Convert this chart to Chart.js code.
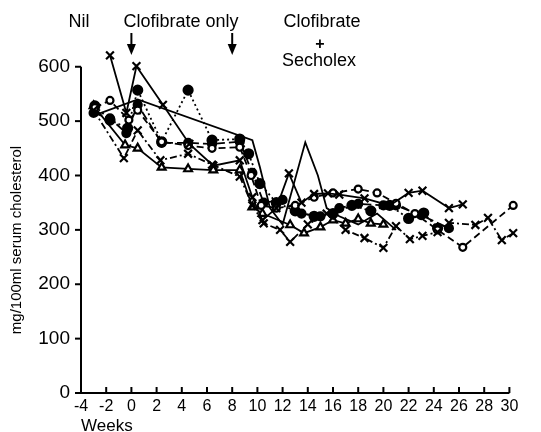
<!DOCTYPE html>
<html lang="en">
<head>
  <meta charset="UTF-8">
  <title>Serum cholesterol</title>
  <script src="https://cdn.jsdelivr.net/npm/chart.js"></script>
  <style>
    body {
      margin: 0;
      background: #fff;
    }
  </style>
</head>
<body>
  <canvas id="chol" width="541" height="432"></canvas>

  <script>
// weeks / mg per 100 ml, one pair of arrays per patient
const weeksXSolid = [-1.7, -0.4, 0.4, 2.5, 4.6, 6.5, 8.6, 9.6, 10.4, 11.5, 12.5, 13.5, 14.5, 15.6, 16.5, 18.5, 20.5, 22, 23.1, 25.2, 26.3];
const cholXSolid  = [621, 515, 601, 530, 458, 418, 428, 360, 318, 340, 404, 350, 366, 367, 365, 358, 345, 368, 372, 340, 347];

const weeksXDashDot = [-3, -0.6, 0.5, 2.3, 4.5, 6.4, 8.6, 9.6, 10.5, 11.8, 12.6, 14, 15.5, 17, 18.5, 20, 21, 22.1, 23.1, 24.3, 25.2, 27.3, 28.3, 29.4, 30.3];
const cholXDashDot  = [520, 432, 483, 428, 440, 420, 398, 345, 312, 300, 278, 310, 330, 300, 285, 267, 307, 283, 289, 296, 313, 309, 322, 281, 294];

const weeksOpenDash = [-2.9, -1.7, -0.2, 0.5, 2.4, 4.5, 6.4, 8.6, 9.5, 10.3, 11.5, 13, 14.5, 16, 18, 19.5, 21, 22.5, 24.3, 26.3, 30.3];
const cholOpenDash  = [525, 538, 502, 520, 462, 455, 450, 452, 400, 345, 340, 345, 360, 368, 375, 368, 349, 330, 300, 268, 345];

const weeksDotDot = [-2.9, -1.7, -0.3, 0.5, 2.4, 4.5, 6.4, 8.6, 9.3, 10.2, 11.5, 13, 14.5, 16, 17.5, 19, 20.5, 22, 23.2, 24.3];
const cholDotDot  = [528, 502, 487, 557, 462, 557, 465, 467, 440, 385, 350, 335, 325, 330, 345, 335, 345, 321, 331, 303];

const weeksDotDash = [-3, -1.7, -0.4, 0.5, 2.4, 4.5, 6.4, 8.6, 9.6, 10.5, 12, 13.5, 15, 16.5, 18, 20, 21, 23, 25.2];
const cholDotDash  = [515, 505, 478, 530, 460, 460, 458, 462, 405, 350, 355, 330, 325, 340, 348, 345, 345, 327, 303];

const weeksTri = [-3, -0.5, 0.5, 2.4, 4.5, 6.5, 8.6, 9.6, 10.4, 12.6, 13.7, 15, 16, 17, 18, 19, 20];
const cholTri  = [528, 456, 450, 415, 412, 410, 410, 342, 330, 309, 294, 305, 318, 312, 320, 312, 310];

const weeksPlain = [-3, 0.5, 9.6, 10.2, 11, 12, 13.8, 14.8, 15.5, 16.5, 18, 19.5, 21];
const cholPlain  = [510, 540, 465, 415, 340, 310, 461, 400, 340, 325, 310, 330, 300];

const xTicks = [-4, -2, 0, 2, 4, 6, 8, 10, 12, 14, 16, 18, 20, 22, 24, 26, 28, 30];
const yTicks = [0, 100, 200, 300, 400, 500, 600];

function pts(w, v) {
  return w.map((x, i) => ({ x: x, y: v[i] }));
}

function series(w, v, style, fill, dash, radius) {
  return {
    data: pts(w, v),
    showLine: true,
    borderColor: "#000",
    borderWidth: 1.8,
    borderDash: dash,
    pointStyle: style,
    pointRadius: radius,
    pointBorderWidth: 2.2,
    pointBorderColor: "#000",
    pointBackgroundColor: fill,
    tension: 0,
    clip: false
  };
}

const annotate = {
  id: "annotate",
  afterDraw(chart) {
    const ctx = chart.ctx;
    const x = chart.scales.x;
    const y = chart.scales.y;
    const x0 = x.getPixelForValue(-4);
    const x1 = x.getPixelForValue(30);
    const y0 = y.getPixelForValue(0);
    const y1 = y.getPixelForValue(600);
    ctx.save();
    ctx.strokeStyle = "#000";
    ctx.fillStyle = "#000";
    ctx.lineWidth = 2;

    // axes stop at the last tick
    ctx.beginPath();
    ctx.moveTo(x0, y1);
    ctx.lineTo(x0, y0);
    ctx.lineTo(x1, y0);
    ctx.stroke();

    // ticks: y outward, x inward
    yTicks.forEach(t => {
      const py = y.getPixelForValue(t);
      ctx.beginPath();
      ctx.moveTo(x0 - 6, py);
      ctx.lineTo(x0, py);
      ctx.stroke();
    });
    xTicks.forEach(t => {
      const px = x.getPixelForValue(t);
      ctx.beginPath();
      ctx.moveTo(px, y0);
      ctx.lineTo(px, y0 - 6);
      ctx.stroke();
    });

    // arrows at start of each treatment
    [0, 8].forEach(w => {
      const px = x.getPixelForValue(w);
      ctx.beginPath();
      ctx.moveTo(px, 33);
      ctx.lineTo(px, 46);
      ctx.stroke();
      ctx.beginPath();
      ctx.moveTo(px - 4.5, 44);
      ctx.lineTo(px + 4.5, 44);
      ctx.lineTo(px, 55);
      ctx.closePath();
      ctx.fill();
    });

    ctx.font = "18px 'Liberation Sans'";
    ctx.textAlign = "center";
    ctx.textBaseline = "middle";
    ctx.fillText("Nil", 79, 22);
    ctx.fillText("Clofibrate only", 181, 22);
    ctx.fillText("Clofibrate", 322, 22);
    ctx.fillText("Secholex", 319, 61);
    ctx.font = "bold 16px 'Liberation Sans'";
    ctx.fillText("+", 320, 45);

    ctx.font = "17px 'Liberation Sans'";
    ctx.textAlign = "left";
    ctx.fillText("Weeks", 81, 426);

    ctx.translate(17, 240);
    ctx.rotate(-Math.PI / 2);
    ctx.textAlign = "center";
    ctx.font = "15px 'Liberation Sans'";
    ctx.fillText("mg/100ml serum cholesterol", 0, 0);
    ctx.restore();
  }
};

new Chart(document.getElementById("chol"), {
  type: "scatter",
  data: {
    datasets: [
      series(weeksXSolid, cholXSolid, "crossRot", "#000", [], 5.5),
      series(weeksXDashDot, cholXDashDot, "crossRot", "#000", [7, 3, 2, 3], 5.5),
      series(weeksOpenDash, cholOpenDash, "circle", "#fff", [7, 4], 3.5),
      series(weeksDotDot, cholDotDot, "circle", "#000", [2, 3], 4.5),
      series(weeksDotDash, cholDotDash, "circle", "#000", [9, 4], 4),
      series(weeksTri, cholTri, "triangle", "#fff", [], 4.5),
      series(weeksPlain, cholPlain, "circle", "#000", [], 0)
    ]
  },
  options: {
    responsive: false,
    animation: false,
    devicePixelRatio: 1,
    layout: {
      padding: { top: 45, right: 19, left: 0, bottom: 0 }
    },
    plugins: {
      legend: { display: false },
      tooltip: { enabled: false }
    },
    scales: {
      x: {
        type: "linear",
        min: -4,
        max: 31,
        afterFit: s => { s.height = 39; },
        afterBuildTicks: s => { s.ticks = xTicks.map(v => ({ value: v })); },
        grid: { display: false, drawTicks: false },
        border: { display: false },
        ticks: {
          color: "#000",
          padding: 4,
          maxRotation: 0,
          autoSkip: false,
          font: { family: "Liberation Sans", size: 16 }
        }
      },
      y: {
        min: 0,
        max: 640,
        afterFit: s => { s.width = 81; },
        afterBuildTicks: s => { s.ticks = yTicks.map(v => ({ value: v })); },
        grid: { display: false, drawTicks: false },
        border: { display: false },
        ticks: {
          color: "#000",
          padding: 11,
          font: { family: "Liberation Sans", size: 19 }
        }
      }
    }
  },
  plugins: [annotate]
});
  </script>
</body>
</html>
